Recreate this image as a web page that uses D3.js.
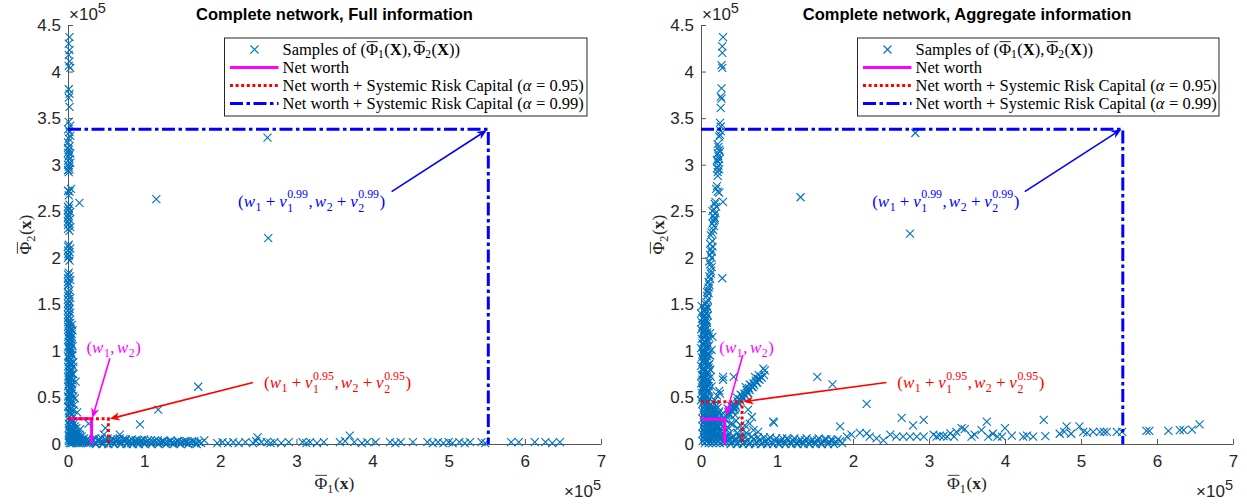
<!DOCTYPE html>
<html><head><meta charset="utf-8">
<script src="https://cdn.jsdelivr.net/npm/d3@7"></script>
<style>
html,body{margin:0;padding:0;background:#fff;}
svg{display:block;}
svg text{white-space:pre;}
</style></head><body>
<svg id="fig" width="1247" height="504"></svg>
<script>
// ---- axis ticks (values in units of 1e5) ----
const xTicks = [0, 1, 2, 3, 4, 5, 6, 7];
const yTicks = [0, 0.5, 1, 1.5, 2, 2.5, 3, 3.5, 4, 4.5];
const panelTitles = ["Complete network, Full information", "Complete network, Aggregate information"];

// ---- Full information: simulated (Phi1, Phi2) samples ----
const fullColumn = [[0.02,4.37],[0.01,4.30],[0.02,4.23],[0.01,4.18],[0.02,4.11],[0.01,4.06],[0.03,4.04],[0.01,3.81],[0.02,3.76],[0.01,3.72],[0.02,3.62],[0.01,3.46],[0.03,3.42],[0.02,3.35],[0.03,3.31],[0.01,3.28],[0.02,3.20],[0.01,3.16],[0.03,3.12],[0.01,3.09],[0.02,3.06],[0.03,3.02],[0.01,2.98],[0.02,2.95],[0.01,2.92],[0.04,2.74],[0.02,2.71],[0.01,2.67],[0.02,2.57],[0.01,2.53],[0.03,2.49],[0.01,2.45],[0.02,2.41],[0.01,2.37],[0.03,2.33],[0.02,2.29],[0.01,2.14],[0.03,2.10],[0.02,2.06],[0.01,2.02],[0.02,1.97],[0.01,1.84],[0.02,1.80],[0.03,1.76],[0.01,1.72],[0.02,1.65],[0.01,1.61],[0.03,1.57],[0.02,1.53],[0.01,1.49],[0.02,1.45],[0.03,1.41],[0.01,1.37],[0.02,1.33],[0.01,1.29],[0.03,1.25],[0.02,1.21],[0.01,1.17],[0.02,1.13],[0.03,1.09],[0.01,1.05],[0.02,1.01],[0.03,0.97],[0.01,0.93],[0.02,0.89],[0.03,0.85],[0.01,0.81],[0.02,0.77],[0.03,0.73],[0.01,0.69],[0.02,0.65],[0.04,0.61],[0.01,0.57],[0.03,0.53],[0.02,0.49],[0.04,0.45],[0.01,0.41],[0.03,0.37],[0.02,0.33],[0.06,0.95],[0.07,0.75],[0.06,0.58],[0.08,0.42],[0.05,1.15]];
const fullColumnDense = [[0.00,1.31],[0.05,1.28],[0.00,1.26],[0.04,1.23],[0.01,1.20],[0.05,1.18],[0.00,1.15],[0.04,1.12],[0.01,1.10],[0.05,1.07],[0.00,1.04],[0.04,1.02],[0.01,0.99],[0.05,0.96],[0.00,0.94],[0.04,0.91],[0.01,0.88],[0.05,0.86],[0.00,0.83],[0.04,0.80],[0.01,0.78],[0.05,0.75],[0.00,0.72],[0.04,0.70],[0.01,0.67],[0.05,0.64],[0.00,0.62],[0.04,0.59],[0.01,0.56],[0.05,0.54],[0.00,0.51],[0.04,0.48],[0.01,0.46],[0.05,0.43],[0.00,0.40],[0.04,0.38],[0.01,0.35],[0.05,0.32],[0.00,3.38],[0.00,3.24],[0.00,3.18],[0.00,3.13],[0.00,3.04],[0.00,3.00],[0.00,2.94],[0.00,2.72],[0.00,2.55],[0.00,2.51],[0.00,2.47],[0.00,2.43],[0.00,2.39],[0.00,2.35],[0.00,2.31],[0.00,2.12],[0.00,2.08],[0.00,2.04],[0.00,2.00],[0.00,1.82],[0.00,1.78],[0.00,1.74],[0.00,1.70],[0.00,1.63],[0.00,1.59],[0.00,1.55],[0.00,1.51],[0.00,1.47],[0.00,1.43],[0.00,1.39],[0.00,1.35],
  [0.03,1.30],[0.02,1.24],[0.03,1.19],[0.02,1.14],[0.03,1.08],[0.02,1.03],[0.03,0.98],[0.02,0.92],[0.03,0.87],[0.02,0.82],[0.03,0.76],[0.02,0.71],[0.03,0.66],[0.02,0.60],[0.03,0.55],[0.02,0.50],[0.03,0.44],[0.02,0.39],[0.03,0.34],[0.06,1.22],[0.06,1.05],[0.07,0.88],[0.06,0.68],[0.07,0.51],[0.07,0.36]];
const fullCorner = [[0.02,0.29],[0.05,0.27],[0.02,0.25],[0.04,0.23],[0.07,0.21],[0.02,0.20],[0.05,0.18],[0.03,0.16],[0.08,0.16],[0.05,0.14],[0.02,0.12],[0.10,0.13],[0.07,0.11],[0.04,0.09],[0.12,0.10],[0.09,0.08],[0.02,0.07],[0.15,0.07],[0.06,0.06],[0.11,0.05],[0.19,0.05],[0.03,0.04],[0.08,0.03],[0.14,0.03],[0.23,0.03],[0.02,0.01],[0.06,0.01],[0.11,0.01],[0.17,0.01],[0.21,0.015],[0.27,0.01],[0.16,0.16],[0.27,0.22],[0.12,0.34],[0.09,0.49],[0.10,0.67],[0.07,0.83],
  [0.03,0.27],[0.06,0.24],[0.01,0.22],[0.09,0.19],[0.04,0.19],[0.11,0.17],[0.01,0.17],[0.06,0.15],[0.13,0.13],[0.02,0.14],[0.09,0.11],[0.05,0.11],[0.15,0.10],[0.01,0.09],[0.11,0.09],[0.07,0.08],[0.18,0.08],[0.13,0.07],[0.04,0.07],[0.21,0.06],[0.09,0.06],[0.16,0.05],[0.01,0.05],[0.25,0.05],[0.05,0.04],[0.12,0.04],[0.20,0.04],[0.28,0.03],[0.01,0.03],[0.04,0.01],[0.09,0.02],[0.14,0.01],[0.19,0.02],[0.24,0.01],[0.29,0.02]];
const fullFloor = [[0.31,0.03],[0.35,0.01],[0.39,0.04],[0.43,0.02],[0.47,0.01],[0.51,0.03],[0.55,0.02],[0.59,0.01],[0.63,0.03],[0.67,0.02],[0.71,0.01],[0.75,0.03],[0.79,0.02],[0.83,0.01],[0.87,0.02],[0.91,0.01],[0.95,0.03],[0.99,0.01],[1.03,0.02],[1.08,0.01],[1.12,0.02],[1.17,0.01],[1.22,0.02],[1.27,0.01],[1.31,0.02],[1.36,0.01],[1.41,0.02],[1.46,0.01],[1.50,0.02],[1.55,0.01],[1.61,0.02],[1.67,0.01],[1.72,0.02],[1.79,0.04],
  [0.33,0.05],[0.37,0.00],[0.41,0.05],[0.45,0.00],[0.49,0.05],[0.53,0.00],[0.57,0.05],[0.61,0.00],[0.65,0.05],[0.69,0.00],[0.73,0.05],[0.77,0.00],[0.81,0.04],[0.85,0.00],[0.89,0.04],[0.93,0.00],[0.97,0.04],[1.01,0.00],[1.05,0.04],[1.10,0.00],[1.14,0.04],[1.19,0.00],[1.24,0.03],[1.29,0.00],[1.34,0.03],[1.39,0.00],[1.44,0.03],[1.48,0.00],[1.53,0.03],[1.58,0.00],[1.63,0.03],[1.69,0.00],[1.75,0.01],
  [0.36,0.06],[0.44,0.06],[0.52,0.06],[0.60,0.05],[0.68,0.06],[0.76,0.05],[0.84,0.05],[0.92,0.04],[1.00,0.05],[1.09,0.04],[1.18,0.04],[1.26,0.03],[1.35,0.04],[1.45,0.03],[1.56,0.03],[1.66,0.03]];
const fullTail = [[1.96,0.01],[2.03,0.02],[2.10,0.01],[2.17,0.02],[2.24,0.01],[2.33,0.02],[2.43,0.01],[2.47,0.03],[2.49,0.07],[2.54,0.02],[2.61,0.02],[2.66,0.01],[2.71,0.02],[2.80,0.01],[2.90,0.02],[3.08,0.02],[3.13,0.01],[3.18,0.02],[3.27,0.01],[3.36,0.02],[3.57,0.02],[3.64,0.03],[3.70,0.09],[3.76,0.02],[3.86,0.01],[3.93,0.02],[4.04,0.02],[4.23,0.02],[4.30,0.01],[4.37,0.02],[4.53,0.02],[4.72,0.02],[4.79,0.01],[4.86,0.02],[4.93,0.01],[5.00,0.02],[5.05,0.01],[5.14,0.02],[5.21,0.01],[5.28,0.02],[5.43,0.02],[5.48,0.01],[5.82,0.02],[5.92,0.02],[6.13,0.02],[6.27,0.02],[6.36,0.01],[6.46,0.02]];
const fullOutliers = [[2.62,3.29],[2.63,2.21],[1.16,2.63],[0.15,2.59],[1.71,0.615],[1.185,0.37],[0.945,0.21],[0.68,0.10],[0.49,0.17],[0.47,0.10]];

// ---- Aggregate information: simulated (Phi1, Phi2) samples ----
const aggColumn = [[0.29,4.37],[0.28,4.27],[0.28,4.20],[0.27,4.07],[0.28,4.04],[0.27,3.82],[0.26,3.73],[0.27,3.71],[0.26,3.61],[0.25,3.45],[0.26,3.41],[0.25,3.32],[0.24,3.30],[0.23,3.19],[0.24,3.16],[0.22,3.12],[0.23,3.09],[0.24,3.06],[0.22,3.03],[0.23,2.99],[0.21,2.96],[0.22,2.92],[0.20,2.74],[0.22,2.71],[0.24,2.70],[0.18,2.58],[0.20,2.55],[0.17,2.52],[0.19,2.48],[0.16,2.45],[0.18,2.41],[0.15,2.37],[0.17,2.34],[0.16,2.30],[0.14,2.27],[0.15,2.12],[0.13,2.09],[0.14,2.06],[0.12,2.03],[0.14,2.00],[0.11,1.96],[0.12,1.93],[0.13,1.83],[0.11,1.80],[0.12,1.77],[0.10,1.74],[0.09,1.65],[0.10,1.62],[0.08,1.59],[0.09,1.55],[0.07,1.52],[0.08,1.48],[0.06,1.45],[0.07,1.41],[0.05,1.38],[0.06,1.34],[0.05,1.30],[0.06,1.26],[0.04,1.22],[0.05,1.18],[0.04,1.14],[0.05,1.10],[0.03,1.06],[0.04,1.02],[0.03,0.98],[0.04,0.94],[0.03,0.90],[0.05,0.86],[0.03,0.82],[0.04,0.78],[0.02,0.74],[0.04,0.70],[0.03,0.66],[0.05,0.62],[0.02,0.58],[0.04,0.54],[0.03,0.50],[0.05,0.46],[0.08,1.20],[0.09,1.12],[0.07,1.05],[0.09,0.97],[0.08,0.90],[0.10,0.82],[0.07,0.76],[0.09,0.70],[0.08,0.63],[0.10,0.56],[0.07,0.50],[0.09,0.46]];
const aggColumnDense = [[0.01,1.48],[0.04,1.44],[0.00,1.40],[0.03,1.36],[0.07,1.33],[0.01,1.31],[0.04,1.28],[0.08,1.25],[0.00,1.23],[0.03,1.20],[0.06,1.17],[0.10,1.15],[0.01,1.13],[0.04,1.10],[0.07,1.08],[0.11,1.06],[0.00,1.03],[0.03,1.00],[0.06,0.98],[0.10,0.96],[0.01,0.93],[0.04,0.91],[0.07,0.88],[0.11,0.86],[0.00,0.84],[0.03,0.81],[0.06,0.79],[0.10,0.77],[0.01,0.74],[0.04,0.72],[0.07,0.69],[0.11,0.67],[0.00,0.65],[0.03,0.62],[0.06,0.60],[0.10,0.58],[0.01,0.55],[0.04,0.53],[0.07,0.51],[0.11,0.49],[0.00,0.47],[0.03,0.45],[0.13,0.72],[0.12,0.80],[0.14,0.62],
  [0.10,1.68],[0.11,1.71],[0.08,1.63],[0.13,1.86],[0.14,1.90],[0.12,2.15],[0.15,2.18],[0.13,2.24],[0.17,2.39],[0.18,2.43],[0.15,2.50],[0.19,2.60],[0.21,2.77],[0.22,2.88],[0.24,2.95],[0.21,3.05],[0.25,3.14],[0.22,3.22],[0.26,3.36],
  [0.06,1.50],[0.09,1.46],[0.05,1.42],[0.09,1.38],[0.02,1.35],[0.08,1.30],[0.02,1.27],[0.06,1.22],[0.02,1.18],[0.08,1.11],[0.02,1.08],[0.08,1.02],[0.02,0.97],[0.08,0.94],[0.02,0.88],[0.08,0.84],[0.02,0.79],[0.08,0.73],[0.02,0.69],[0.06,0.66],[0.02,0.60],[0.08,0.56],[0.02,0.51],[0.06,0.48]];
const aggCorner = [[0.02,0.43],[0.07,0.43],[0.12,0.42],[0.18,0.43],[0.04,0.39],[0.09,0.39],[0.15,0.38],[0.22,0.39],[0.02,0.35],[0.07,0.35],[0.12,0.34],[0.17,0.35],[0.24,0.35],[0.04,0.31],[0.09,0.31],[0.14,0.30],[0.20,0.31],[0.27,0.31],[0.02,0.27],[0.07,0.27],[0.12,0.26],[0.17,0.27],[0.23,0.27],[0.04,0.23],[0.09,0.23],[0.14,0.22],[0.19,0.23],[0.25,0.23],[0.02,0.19],[0.07,0.19],[0.12,0.18],[0.17,0.19],[0.22,0.19],[0.28,0.19],[0.04,0.15],[0.09,0.15],[0.14,0.14],[0.19,0.15],[0.25,0.15],[0.02,0.11],[0.07,0.11],[0.12,0.10],[0.17,0.11],[0.22,0.11],[0.28,0.11],[0.04,0.07],[0.09,0.07],[0.14,0.06],[0.19,0.07],[0.25,0.07],[0.31,0.07],[0.02,0.03],[0.07,0.03],[0.12,0.02],[0.17,0.03],[0.22,0.03],[0.28,0.03],
  [0.05,0.41],[0.10,0.40],[0.15,0.41],[0.20,0.41],[0.05,0.37],[0.10,0.37],[0.19,0.37],[0.05,0.33],[0.11,0.33],[0.17,0.32],[0.23,0.33],[0.05,0.29],[0.10,0.29],[0.15,0.28],[0.21,0.29],[0.05,0.25],[0.11,0.25],[0.16,0.24],[0.22,0.25],[0.28,0.25],[0.05,0.21],[0.10,0.21],[0.15,0.20],[0.20,0.21],[0.26,0.21],[0.05,0.17],[0.11,0.17],[0.16,0.16],[0.22,0.17],[0.28,0.15],[0.05,0.13],[0.10,0.13],[0.15,0.12],[0.20,0.13],[0.26,0.13],[0.05,0.09],[0.11,0.09],[0.16,0.08],[0.22,0.09],[0.28,0.08],[0.05,0.05],[0.10,0.05],[0.15,0.04],[0.20,0.05],[0.26,0.05],[0.31,0.04],[0.05,0.01],[0.10,0.01],[0.15,0.01],[0.20,0.01],[0.25,0.01],[0.30,0.01],[0.35,0.09],[0.36,0.04],[0.40,0.07],[0.44,0.05],[0.33,0.14],[0.39,0.22],[0.46,0.25],[0.52,0.20],[0.48,0.12],[0.55,0.15],[0.53,0.07]];
const aggWedge = [[0.30,0.28],[0.33,0.30],[0.36,0.34],[0.39,0.36],[0.42,0.40],[0.45,0.42],[0.48,0.46],[0.51,0.48],[0.54,0.52],[0.57,0.54],[0.60,0.58],[0.63,0.60],[0.66,0.63],[0.69,0.65],[0.72,0.68],[0.75,0.70],[0.79,0.72],[0.83,0.74],[0.38,0.31],[0.44,0.37],[0.50,0.43],[0.56,0.49],[0.62,0.55],[0.68,0.61],[0.74,0.66],[0.35,0.38],[0.47,0.50],[0.59,0.61],[0.71,0.72],
  [0.32,0.26],[0.35,0.31],[0.37,0.32],[0.41,0.36],[0.43,0.38],[0.46,0.40],[0.49,0.44],[0.52,0.46],[0.55,0.49],[0.58,0.52],[0.61,0.55],[0.64,0.58],[0.67,0.61],[0.70,0.63],[0.73,0.66],[0.77,0.69],[0.80,0.71],[0.40,0.41],[0.52,0.53],[0.64,0.64],[0.76,0.74]];
const aggNear = [[0.15,1.15],[0.14,1.01],[0.12,1.19],[0.29,0.69],[0.25,0.54],[0.21,0.52],[0.43,0.72],[0.29,0.72],[0.24,0.57],[0.16,0.37],[0.18,0.47],[0.62,0.37],[0.67,0.29],[0.64,0.22],[0.69,0.15],[0.58,0.20],[0.60,0.12],[0.75,0.13],[0.95,0.24],[0.84,0.79],[0.45,0.31],[0.48,0.17],[0.43,0.40],[0.38,0.12],[0.42,0.21],[0.50,0.08],[0.35,0.18],[0.82,0.81],[0.10,0.85],[0.12,0.95],[0.10,0.62]];
const aggFloor = [[0.33,0.02],[0.37,0.05],[0.41,0.02],[0.45,0.04],[0.49,0.01],[0.53,0.05],[0.57,0.02],[0.61,0.04],[0.65,0.01],[0.69,0.05],[0.73,0.02],[0.77,0.04],[0.81,0.01],[0.85,0.03],[0.89,0.05],[0.93,0.02],[0.97,0.04],[1.01,0.01],[1.05,0.03],[1.09,0.02],[1.13,0.06],[1.17,0.02],[1.21,0.04],[1.25,0.01],[1.29,0.03],[1.33,0.02],[1.37,0.04],[1.41,0.01],[1.45,0.03],[1.49,0.02],[1.53,0.04],[1.57,0.01],[1.61,0.03],[1.65,0.05],[1.69,0.02],[1.73,0.04],[1.78,0.02],[1.83,0.03],
  [0.35,0.08],[0.39,0.00],[0.43,0.08],[0.47,0.00],[0.51,0.08],[0.55,0.00],[0.59,0.08],[0.63,0.00],[0.67,0.08],[0.71,0.00],[0.75,0.07],[0.79,0.00],[0.83,0.07],[0.87,0.00],[0.91,0.07],[0.95,0.00],[0.99,0.06],[1.03,0.00],[1.07,0.06],[1.11,0.00],[1.15,0.05],[1.19,0.00],[1.23,0.06],[1.27,0.00],[1.31,0.05],[1.35,0.00],[1.39,0.06],[1.43,0.00],[1.47,0.05],[1.51,0.00],[1.55,0.06],[1.59,0.00],[1.63,0.05],[1.67,0.00],[1.71,0.05],[1.75,0.00],[1.80,0.05],[1.86,0.01]];
const aggTail = [[1.92,0.08],[1.98,0.10],[2.09,0.12],[2.18,0.115],[2.22,0.08],[2.31,0.06],[2.40,0.04],[2.49,0.10],[2.57,0.08],[2.64,0.28],[2.66,0.08],[2.75,0.08],[2.79,0.20],[2.84,0.08],[2.93,0.26],[2.93,0.08],[3.06,0.10],[3.10,0.08],[3.14,0.09],[3.19,0.085],[3.24,0.08],[3.28,0.115],[3.33,0.08],[3.36,0.13],[3.43,0.17],[3.47,0.16],[3.56,0.08],[3.60,0.10],[3.69,0.15],[3.76,0.24],[3.78,0.08],[3.84,0.11],[3.90,0.08],[3.96,0.08],[4.00,0.17],[4.09,0.09],[4.24,0.08],[4.29,0.09],[4.37,0.08],[4.51,0.26],[4.53,0.085],[4.72,0.11],[4.78,0.13],[4.81,0.19],[4.87,0.11],[4.98,0.19],[5.03,0.13],[5.08,0.12],[5.16,0.13],[5.25,0.13],[5.30,0.13],[5.34,0.13],[5.47,0.13],[5.54,0.13],[5.86,0.14],[5.90,0.14],[6.15,0.14],[6.30,0.15],[6.35,0.15],[6.46,0.155],[6.56,0.21]];
const aggOutliers = [[2.82,3.34],[1.31,2.65],[2.75,2.26],[0.29,2.60],[0.28,1.78],[1.53,0.72],[1.73,0.64],[2.18,0.43],[1.83,0.19],[0.96,0.23]];

// ---- net worth (w1, w2) and net worth + systemic risk capital ----
const fullNetWorth = [0.31, 0.27];
const fullCapital95 = [0.53, 0.27];
const fullCapital99 = [5.52, 3.38];
const aggNetWorth = [0.31, 0.265];
const aggCapital95 = [0.54, 0.455];
const aggCapital99 = [5.55, 3.38];

// ---- fonts, colours ----
const SANS = "'Liberation Sans', Arial, Helvetica, sans-serif";
const SERIF = "'Liberation Serif', 'Times New Roman', serif";
const AXIS_INK = "#262626";
const SAMPLE_COLOR = "#0072BD";
const MAGENTA = "#ff00ff", RED = "#ff0000", BLUE = "#0000ff";
const DOTTED = "3,2.6", DASHDOT = "13,3.5,3.5,3.5";

const svg = d3.select("#fig");

// Lays out a short formula as one text element with positioned tspans.
function mathLine(parent, pieces, o) {
  const fill = o.fill || "#000";
  const g = parent.append("g");
  const inner = g.append("g");
  const txt = inner.append("text").attr("fill", fill).attr("font-family", SERIF).attr("font-size", o.size);
  const fs = o.size, ss = fs * 0.7;
  let cx = 0;
  const put = (s, size, dy, style, weight) => {
    const t = txt.append("tspan").attr("x", cx).attr("y", dy)
      .attr("font-size", size).attr("font-style", style || "normal").attr("font-weight", weight || "normal")
      .text(s);
    return t.node().getComputedTextLength();
  };
  pieces.forEach(p => {
    if (typeof p === "string") cx += put(p, fs, 0);
    else if (p.i !== undefined) cx += put(p.i, fs, 0, "italic") + fs * 0.03;
    else if (p.b !== undefined) cx += put(p.b, fs, 0, null, "bold");
    else if (p.op !== undefined) { cx += fs * 0.22; cx += put(p.op, fs, 0); cx += fs * 0.22; }
    else if (p.bar !== undefined) {
      const x0 = cx, w = put(p.bar, fs, 0);
      inner.append("line").attr("x1", x0 + fs * 0.04).attr("x2", x0 + w - fs * 0.02)
        .attr("y1", -fs * 0.78).attr("y2", -fs * 0.78)
        .attr("stroke", fill).attr("stroke-width", Math.max(0.8, fs * 0.05));
      cx += w;
    } else if (p.sub !== undefined || p.sup !== undefined) {
      // subscript below, superscript above, sharing one column
      const x0 = cx;
      let w1 = 0, w2 = 0;
      if (p.sub !== undefined) w1 = put(p.sub, ss, fs * (p.sup !== undefined ? 0.3 : 0.24));
      cx = x0;
      if (p.sup !== undefined) w2 = put(p.sup, ss, -fs * 0.5);
      cx = x0 + Math.max(w1, w2) + fs * 0.03;
    } else if (p.sp !== undefined) cx += p.sp * fs;
  });
  const shift = o.anchor === "middle" ? -cx / 2 : o.anchor === "end" ? -cx : 0;
  g.attr("transform", `translate(${o.x},${o.y}) rotate(${o.rotate || 0})`);
  inner.attr("transform", `translate(${shift},0)`);
  return g;
}

// Arrow with a swept-back filled head whose tip sits on (x2, y2).
function arrow(parent, x1, y1, x2, y2, color) {
  const a = Math.atan2(y2 - y1, x2 - x1);
  const L = 10, W = 4.2, back = 7;
  const rot = (dx, dy) => [x2 + dx * Math.cos(a) - dy * Math.sin(a), y2 + dx * Math.sin(a) + dy * Math.cos(a)];
  const notch = rot(-back, 0);
  parent.append("line").attr("x1", x1).attr("y1", y1).attr("x2", notch[0]).attr("y2", notch[1])
    .attr("stroke", color).attr("stroke-width", 1.6);
  const pts = [rot(0, 0), rot(-L, W), notch, rot(-L, -W)];
  parent.append("path").attr("d", "M" + pts.map(p => p.join(",")).join("L") + "Z").attr("fill", color);
}

const subLabel = (k) => ["(", {i: "w"}, {sub: "1"}, {op: "+"}, {i: "ν"}, {sub: "1", sup: k}, ",", {sp: 0.12},
                         {i: "w"}, {sub: "2"}, {op: "+"}, {i: "ν"}, {sub: "2", sup: k}, ")"];
const netLabel = ["(", {i: "w"}, {sub: "1"}, ",", {sp: 0.14}, {i: "w"}, {sub: "2"}, ")"];

const legendItems = [
  {kind: "marker", pieces: ["Samples of (", {bar: "Φ"}, {sub: "1"}, "(", {b: "X"}, "),", {sp: 0.12}, {bar: "Φ"}, {sub: "2"}, "(", {b: "X"}, "))"]},
  {kind: "line", color: MAGENTA, dash: null, pieces: ["Net worth"]},
  {kind: "line", color: RED, dash: DOTTED, pieces: ["Net worth + Systemic Risk Capital (", {i: "α"}, " = 0.95)"]},
  {kind: "line", color: BLUE, dash: DASHDOT, pieces: ["Net worth + Systemic Risk Capital (", {i: "α"}, " = 0.99)"]}
];

const crossPath = "M-4,-4L4,4M-4,4L4,-4";

function drawPanel(p) {
  const x = d3.scaleLinear().domain([0, 7]).range([p.left, p.right]);
  const y = d3.scaleLinear().domain([0, 4.5]).range([444, 25]);
  const g = svg.append("g");

  // axes (ticks point inward)
  const ax = g.append("g").attr("transform", `translate(0,${y(0)})`)
    .call(d3.axisBottom(x).tickValues(xTicks).tickSize(-5).tickSizeOuter(0).tickPadding(11).tickFormat(d => String(d)));
  const ay = g.append("g").attr("transform", `translate(${x(0)},0)`)
    .call(d3.axisLeft(y).tickValues(yTicks).tickSize(-5).tickSizeOuter(0).tickPadding(7).tickFormat(d => String(d)));
  [ax, ay].forEach(a => {
    a.selectAll("path.domain").attr("stroke", "#555").attr("stroke-width", 1);
    a.selectAll(".tick line").attr("stroke", "#555");
    a.selectAll("text").attr("font-family", SANS).attr("font-size", 17).attr("fill", AXIS_INK);
  });

  // exponent labels
  const e1 = g.append("text").attr("x", x(0) + 1).attr("y", 20).attr("font-family", SANS).attr("fill", AXIS_INK);
  e1.append("tspan").attr("font-size", 17).text("×10");
  e1.append("tspan").attr("font-size", 14.5).attr("dy", -7).text("5");
  const e2 = g.append("text").attr("x", x(7)).attr("y", 497).attr("text-anchor", "end").attr("font-family", SANS).attr("fill", AXIS_INK);
  e2.append("tspan").attr("font-size", 17).text("×10");
  e2.append("tspan").attr("font-size", 14.5).attr("dy", -7).text("5");

  // title
  g.append("text").attr("x", (p.left + p.right) / 2).attr("y", 19.5).attr("text-anchor", "middle")
    .attr("font-family", SANS).attr("font-weight", "bold").attr("font-size", 16.5).attr("fill", "#000").text(p.title);

  // axis labels
  mathLine(g, [{bar: "Φ"}, {sub: "1"}, "(", {b: "x"}, ")"], {x: (p.left + p.right) / 2, y: 489, size: 17.5, anchor: "middle", fill: AXIS_INK});
  mathLine(g, [{bar: "Φ"}, {sub: "2"}, "(", {b: "x"}, ")"], {x: x(0) - 37, y: y(2.25), size: 17.5, anchor: "middle", rotate: -90, fill: AXIS_INK});

  // samples
  g.append("g").selectAll("path").data(p.samples).join("path")
    .attr("transform", d => `translate(${x(d[0])},${y(d[1])})`)
    .attr("d", crossPath).attr("fill", "none").attr("stroke", SAMPLE_COLOR).attr("stroke-width", 1.1);

  // capital levels: horizontal from the Phi2 axis, then down to the Phi1 axis
  const corner = d3.line().x(d => x(d[0])).y(d => y(d[1]));
  const levels = [
    {v: p.net, color: MAGENTA, dash: null},
    {v: p.cap95, color: RED, dash: DOTTED},
    {v: p.cap99, color: BLUE, dash: DASHDOT}
  ];
  levels.forEach(l => {
    g.append("path").attr("d", corner([[0, l.v[1]], [l.v[0], l.v[1]], [l.v[0], 0]]))
      .attr("fill", "none").attr("stroke", l.color).attr("stroke-width", 3)
      .attr("stroke-dasharray", l.dash);
  });

  // annotations
  p.notes.forEach(n => {
    arrow(g, x(n.from[0]), y(n.from[1]), x(n.to[0]), y(n.to[1]), n.color);
    mathLine(g, n.pieces, {x: x(n.tx), y: y(n.ty) + 5, size: 17, anchor: "middle", fill: n.color});
  });

  // legend
  const boxL = p.left + 156.5, boxR = p.right - 14, boxT = 38, boxB = 116;
  const lg = g.append("g");
  lg.append("rect").attr("x", boxL).attr("y", boxT).attr("width", boxR - boxL).attr("height", boxB - boxT)
    .attr("fill", "#fff").attr("stroke", AXIS_INK).attr("stroke-width", 1);
  const rowY = [49.5, 67.5, 85.5, 103.5];
  legendItems.forEach((it, i) => {
    const ry = rowY[i];
    if (it.kind === "marker") {
      lg.append("path").attr("transform", `translate(${boxL + 30},${ry})`).attr("d", crossPath)
        .attr("fill", "none").attr("stroke", SAMPLE_COLOR).attr("stroke-width", 1.1);
    } else {
      lg.append("line").attr("x1", boxL + 5.5).attr("x2", boxL + 54).attr("y1", ry).attr("y2", ry)
        .attr("stroke", it.color).attr("stroke-width", 3).attr("stroke-dasharray", it.dash);
    }
    mathLine(lg, it.pieces, {x: boxL + 58, y: ry + 5, size: 16.5, anchor: "start", fill: "#000"});
  });
}

drawPanel({
  left: 68, right: 601, title: panelTitles[0],
  samples: [].concat(fullColumn, fullColumnDense, fullCorner, fullFloor, fullTail, fullOutliers),
  net: fullNetWorth, cap95: fullCapital95, cap99: fullCapital99,
  notes: [
    {pieces: subLabel("0.99"), tx: 3.2, ty: 2.6, from: [4.25, 2.71], to: [5.50, 3.37], color: BLUE},
    {pieces: netLabel, tx: 0.60, ty: 1.03, from: [0.55, 0.92], to: [0.32, 0.28], color: MAGENTA},
    {pieces: subLabel("0.95"), tx: 3.54, ty: 0.655, from: [2.43, 0.66], to: [0.55, 0.27], color: RED}
  ]
});
drawPanel({
  left: 701, right: 1233, title: panelTitles[1],
  samples: [].concat(aggColumn, aggColumnDense, aggCorner, aggWedge, aggNear, aggFloor, aggTail, aggOutliers),
  net: aggNetWorth, cap95: aggCapital95, cap99: aggCapital99,
  notes: [
    {pieces: subLabel("0.99"), tx: 3.22, ty: 2.6, from: [4.26, 2.71], to: [5.53, 3.38], color: BLUE},
    {pieces: netLabel, tx: 0.60, ty: 1.03, from: [0.55, 0.955], to: [0.33, 0.31], color: MAGENTA},
    {pieces: subLabel("0.95"), tx: 3.55, ty: 0.655, from: [2.44, 0.66], to: [0.56, 0.455], color: RED}
  ]
});
</script>
</body></html>
